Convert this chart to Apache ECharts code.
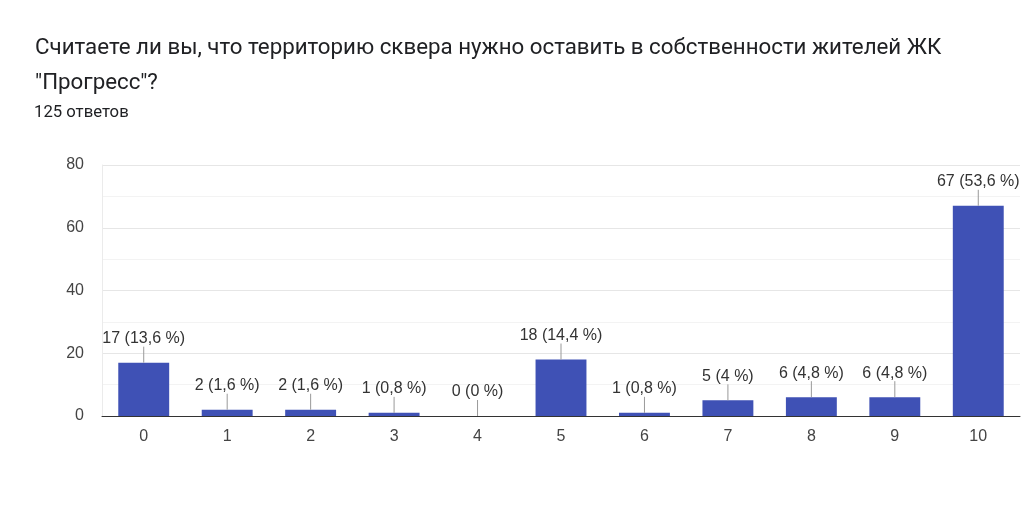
<!DOCTYPE html>
<html><head><meta charset="utf-8">
<script src="https://cdn.jsdelivr.net/npm/echarts@6/dist/echarts.min.js"></script>
<style>html,body{margin:0;padding:0;background:#fff}#c{width:1024px;height:520px}</style>
</head><body><div id="c"></div>
<script>
const categories = ['0','1','2','3','4','5','6','7','8','9','10'];
const counts = [17, 2, 2, 1, 0, 18, 1, 5, 6, 6, 67];
const percents = ['13,6', '1,6', '1,6', '0,8', '0', '14,4', '0,8', '4', '4,8', '4,8', '53,6'];
const yTicks = [0, 20, 40, 60, 80];
const titleText = 'Считаете ли вы, что территорию сквера нужно оставить в собственности жителей ЖК\n"Прогресс"?';
const subtitleText = '125 ответов';

const chart = echarts.init(document.getElementById('c'));
const font = 'Roboto, "Noto Sans", sans-serif';
const chartFont = '"Liberation Sans", Arial, sans-serif';
chart.setOption({
  animation: false,
  textStyle: { fontFamily: chartFont },
  title: [
    { text: titleText, left: 35, top: 31, padding: 0,
      textStyle: { fontSize: 22.3, fontWeight: 'normal', color: '#202124', lineHeight: 35, fontFamily: font } },
    { text: subtitleText, left: 34, top: 103, padding: 0,
      textStyle: { fontSize: 16.7, fontWeight: 'normal', color: '#202124', lineHeight: 20, fontFamily: font } }
  ],
  grid: { left: 102, right: 4, top: 165, bottom: 104 },
  xAxis: {
    type: 'category', data: categories,
    axisLine: { lineStyle: { color: '#333', width: 1 } },
    axisTick: { show: false },
    axisLabel: { color: '#444', fontSize: 16, margin: 13, fontFamily: chartFont },
    splitLine: { show: false }
  },
  yAxis: {
    type: 'value', min: yTicks[0], max: yTicks[yTicks.length - 1], interval: 20,
    axisLine: { show: true, lineStyle: { color: '#ebebeb' } },
    axisTick: { show: false },
    axisLabel: { color: '#444', fontSize: 16, margin: 18, fontFamily: chartFont },
    splitLine: { lineStyle: { color: '#e6e6e6' } },
    minorTick: { show: false, splitNumber: 2 },
    minorSplitLine: { show: true, lineStyle: { color: '#f3f3f3' } }
  },
  series: [
    {
      type: 'bar', data: counts, barWidth: '61%',
      itemStyle: { color: '#3f51b5' },
      z: 2,
      label: {
        show: true, position: 'top', distance: 16,
        color: '#333', fontSize: 16, fontFamily: chartFont,
        formatter: p => p.value + ' (' + percents[p.dataIndex] + ' %)'
      }
    },
    {
      type: 'custom', data: counts.map((v, i) => [i, v]), z: 3, silent: true,
      renderItem: (params, api) => {
        const pt = api.coord([api.value(0), api.value(1)]);
        return { type: 'line', shape: { x1: pt[0], y1: pt[1], x2: pt[0], y2: pt[1] - 16 },
          style: { stroke: '#999', lineWidth: 1 } };
      }
    }
  ]
});
</script></body></html>
